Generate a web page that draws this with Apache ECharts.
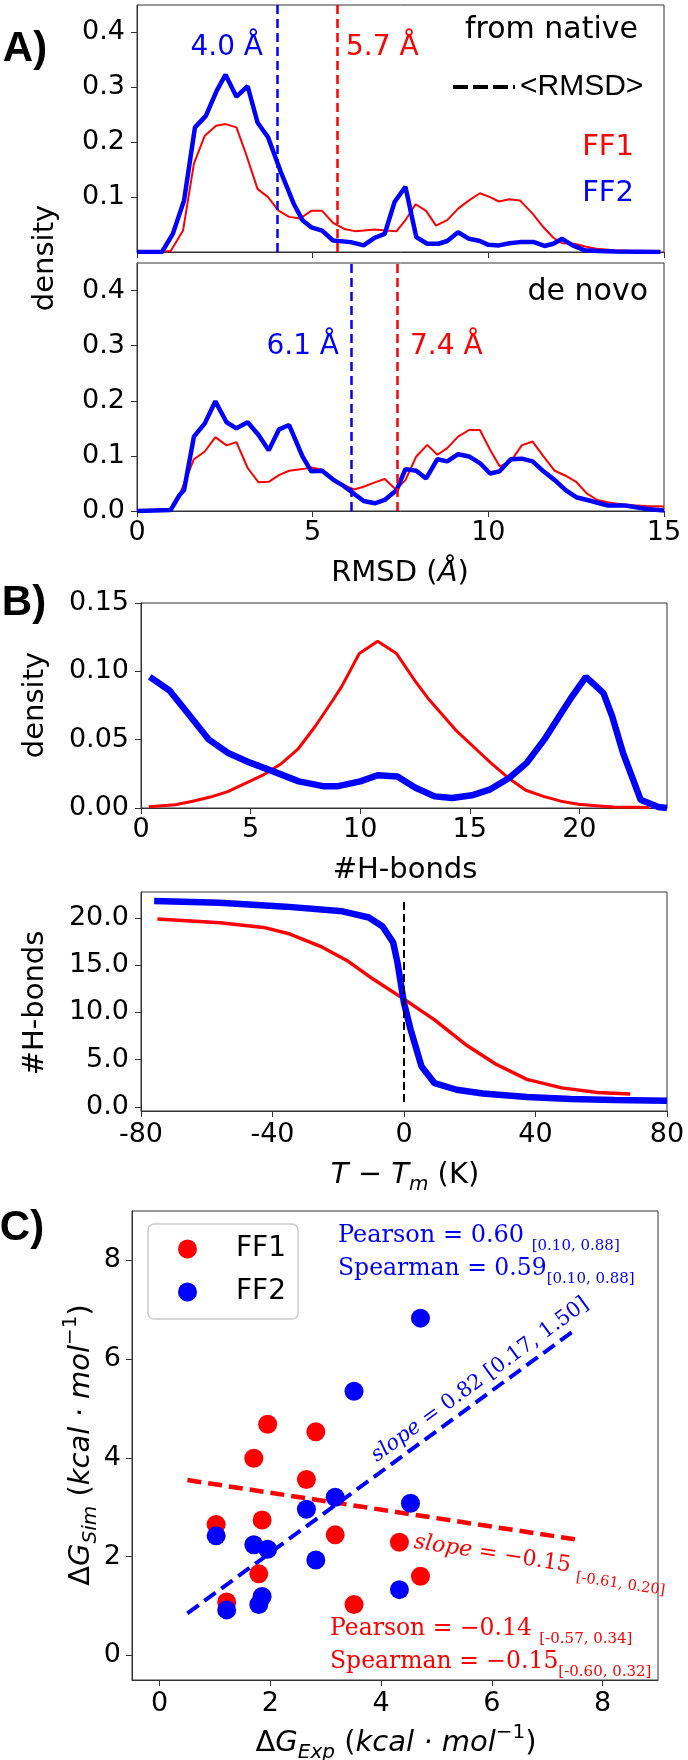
<!DOCTYPE html>
<html>
<head>
<meta charset="utf-8">
<script src="https://cdn.jsdelivr.net/npm/echarts@6.0.0/dist/echarts.min.js"></script>
<style>
  html, body { margin: 0; padding: 0; background: #fff; }
  #chart { width: 688px; height: 1760px; }
</style>
</head>
<body>
<div id="chart"></div>
<script>
// ---- A) RMSD densities (x = RMSD in Å, y = density)
const nativeFF1 = [[0,0],[0.5,0],[0.96,0.002],[1.31,0.039],[1.62,0.161],[1.93,0.212],[2.25,0.230],[2.52,0.233],[2.83,0.227],[3.1,0.179],[3.43,0.115],[3.73,0.100],[4.02,0.076],[4.33,0.064],[4.64,0.061],[4.96,0.075],[5.27,0.075],[5.58,0.053],[5.9,0.042],[6.2,0.038],[6.45,0.039],[6.77,0.041],[7.08,0.039],[7.39,0.038],[7.64,0.058],[7.93,0.087],[8.23,0.075],[8.51,0.048],[8.83,0.058],[9.14,0.079],[9.45,0.094],[9.76,0.107],[10.05,0.100],[10.3,0.092],[10.6,0.096],[10.9,0.094],[11.26,0.070],[11.57,0.045],[11.85,0.026],[12.1,0.016],[12.45,0.015],[12.76,0.010],[13.07,0.006],[13.6,0.003],[14.2,0.002],[14.9,0.001]];
const nativeFF2 = [[0,0],[0.71,0],[1.02,0.033],[1.34,0.094],[1.65,0.227],[1.96,0.248],[2.27,0.294],[2.52,0.323],[2.83,0.283],[3.15,0.302],[3.43,0.236],[3.73,0.209],[4.08,0.148],[4.46,0.088],[4.71,0.058],[4.96,0.045],[5.27,0.039],[5.58,0.021],[6.08,0.018],[6.45,0.012],[6.77,0.026],[7.05,0.033],[7.33,0.091],[7.64,0.119],[7.95,0.027],[8.26,0.015],[8.58,0.015],[8.83,0.020],[9.14,0.036],[9.45,0.024],[9.76,0.020],[10.0,0.013],[10.3,0.012],[10.6,0.016],[10.9,0.018],[11.3,0.018],[11.6,0.011],[11.85,0.015],[12.1,0.024],[12.4,0.012],[12.75,0.003],[13.1,0.002],[13.6,0.001],[14.9,0]];
const denovoFF1 = [[0,0],[0.96,0.002],[1.21,0.029],[1.62,0.094],[1.93,0.108],[2.23,0.134],[2.55,0.119],[2.83,0.125],[3.15,0.078],[3.46,0.052],[3.75,0.053],[4.04,0.065],[4.33,0.073],[4.71,0.076],[4.96,0.079],[5.27,0.075],[5.58,0.059],[5.89,0.047],[6.18,0.039],[6.45,0.044],[6.77,0.052],[7.05,0.058],[7.37,0.039],[7.64,0.056],[7.95,0.099],[8.26,0.120],[8.55,0.102],[8.83,0.114],[9.14,0.135],[9.45,0.147],[9.76,0.147],[10.05,0.111],[10.32,0.081],[10.64,0.090],[10.95,0.119],[11.26,0.126],[11.57,0.099],[11.89,0.073],[12.2,0.064],[12.5,0.053],[12.8,0.032],[13.1,0.020],[13.4,0.016],[13.9,0.011],[14.5,0.009],[15,0.008]];
const denovoFF2 = [[0,0],[0.96,0.002],[1.21,0.029],[1.34,0.038],[1.62,0.135],[1.93,0.159],[2.23,0.199],[2.55,0.161],[2.83,0.150],[3.15,0.161],[3.46,0.138],[3.75,0.110],[4.04,0.148],[4.33,0.156],[4.71,0.099],[4.96,0.072],[5.27,0.073],[5.58,0.057],[5.89,0.045],[6.14,0.033],[6.45,0.018],[6.77,0.014],[7.05,0.020],[7.39,0.038],[7.64,0.076],[7.95,0.073],[8.23,0.059],[8.55,0.094],[8.83,0.090],[9.14,0.103],[9.45,0.099],[9.76,0.087],[10.05,0.068],[10.32,0.072],[10.64,0.094],[10.95,0.095],[11.26,0.090],[11.57,0.072],[11.89,0.056],[12.2,0.038],[12.5,0.025],[12.87,0.019],[13.4,0.010],[13.9,0.010],[14.47,0.004],[15,0.001]];
const meanRmsdNative = { FF1: 5.7, FF2: 4.0 };
const meanRmsdDenovo = { FF1: 7.4, FF2: 6.1 };

// ---- B) H-bond densities and melting curves
const hbondFF1 = [[0.36,0.001],[1.56,0.0024],[2.36,0.005],[3.16,0.008],[3.96,0.012],[4.76,0.018],[5.56,0.024],[6.36,0.032],[7.16,0.043],[7.96,0.060],[8.76,0.079],[9.16,0.089],[9.96,0.113],[10.8,0.122],[11.66,0.113],[12.46,0.094],[13.16,0.079],[14.36,0.057],[15.16,0.045],[15.96,0.033],[16.76,0.022],[17.56,0.013],[18.36,0.0085],[19.16,0.005],[19.96,0.0027],[20.76,0.0017],[21.56,0.0007],[22.56,0.0005],[23.2,0.0003]];
const hbondFF2 = [[0.4,0.096],[1.3,0.086],[2.2,0.068],[3.1,0.050],[4.0,0.040],[5.0,0.033],[6.0,0.027],[7.2,0.0195],[8.3,0.016],[9.0,0.016],[10.0,0.0195],[10.8,0.024],[11.7,0.023],[12.5,0.015],[13.4,0.0085],[14.2,0.0073],[15.1,0.0093],[15.9,0.0134],[16.8,0.022],[17.6,0.033],[18.4,0.050],[19.2,0.070],[19.6,0.080],[20.3,0.096],[21.1,0.084],[21.5,0.067],[22.0,0.040],[22.8,0.006],[23.6,0.0007],[24,0]];
const meltFF1 = [[-75,19.9],[-56,19.5],[-42.7,19.0],[-34.7,18.3],[-25.4,17.0],[-17.4,15.5],[-9.3,13.5],[0,11.4],[9.3,9.2],[18.7,6.6],[28,4.5],[37.4,2.9],[48,2.0],[58.8,1.5],[68.8,1.35]];
const meltFF2 = [[-76,21.8],[-56,21.6],[-36,21.2],[-18.7,20.7],[-10.7,20.05],[-6.5,19.1],[-3.3,17.4],[-2,15.3],[0,11.0],[2,8.2],[5.3,4.3],[9.3,2.5],[16,1.8],[24,1.4],[37.4,1.03],[50.7,0.82],[64,0.71],[80,0.64]];
const tmMarker = [[0,0.5],[0,21.8]];

// ---- C) binding free energies
const expFF1 = [1.95,2.82,1.70,2.65,1.02,1.85,3.17,4.33,1.79,4.71,1.21,3.51];
const simFF1 = [4.68,4.53,3.99,3.56,2.65,2.74,2.44,2.29,1.65,1.60,1.08,1.03];
const expFF2 = [4.71,3.51,3.17,2.65,4.53,1.02,1.70,1.95,2.82,4.33,1.85,1.79,1.21];
const simFF2 = [6.83,5.35,3.20,2.96,3.08,2.42,2.24,2.15,1.93,1.33,1.19,1.03,0.92];
const fitFF1 = [[0.5,3.55],[7.5,2.35]];
const fitFF2 = [[0.5,0.85],[7.5,6.59]];

const RED = '#ff0000';
const BLUE = '#0000ff';
const SANS = "'DejaVu Sans', sans-serif";
const ARIAL = "'Liberation Sans', sans-serif";
const SERIF = "'DejaVu Serif', serif";

const chart = echarts.init(document.getElementById('chart'), null, { renderer: 'canvas' });

const grids = [
  { left: 137, top: 5, width: 527, height: 247 },
  { left: 137, top: 263, width: 527, height: 248 },
  { left: 141, top: 603, width: 526, height: 205 },
  { left: 141, top: 892, width: 526, height: 219 },
  { left: 132, top: 1211, width: 526, height: 469 }
].map(g => Object.assign({ show: true, borderColor: '#333', borderWidth: 1, backgroundColor: 'transparent' }, g));

function axis(gi, min, max, ticks, fmt, showLabels, margin) {
  return {
    type: 'value', gridIndex: gi, min: min, max: max,
    axisLine: { show: true, onZero: false, lineStyle: { color: '#333', width: 1 } },
    axisTick: { show: true, length: 6, customValues: ticks, lineStyle: { color: '#333' } },
    axisLabel: {
      show: showLabels, customValues: ticks, formatter: fmt, margin: margin,
      fontSize: 27, fontFamily: SANS, color: '#000'
    },
    splitLine: { show: false }
  };
}
const f1 = v => v.toFixed(1);
const f2 = v => v.toFixed(2);
const f0 = v => String(v);

const xAxes = [
  axis(0, 0, 15, [0, 5, 10, 15], f0, false, 8),
  axis(1, 0, 15, [0, 5, 10, 15], f0, true, 8),
  axis(2, 0, 24, [0, 5, 10, 15, 20], f0, true, 8),
  axis(3, -80, 80, [-80, -40, 0, 40, 80], f0, true, 10),
  axis(4, -0.5, 9, [0, 2, 4, 6, 8], f0, true, 10)
];
const yAxes = [
  axis(0, 0, 0.45, [0.1, 0.2, 0.3, 0.4], f1, true, 12),
  axis(1, 0, 0.45, [0, 0.1, 0.2, 0.3, 0.4], f1, true, 12),
  axis(2, 0, 0.15, [0, 0.05, 0.1, 0.15], f2, true, 12),
  axis(3, -0.45, 22.75, [0, 5, 10, 15, 20], f1, true, 12),
  axis(4, -0.5, 9, [0, 2, 4, 6, 8], f0, true, 11)
];

function curve(name, gi, data, color, width, extra) {
  return Object.assign({
    type: 'line', name: name, xAxisIndex: gi, yAxisIndex: gi, data: data,
    symbol: 'none', showSymbol: false, silent: true, animation: false,
    lineStyle: { color: color, width: width }, itemStyle: { color: color }
  }, extra || {});
}
function vline(x, color) {
  return {
    silent: true, symbol: ['none', 'none'], animation: false,
    label: { show: false },
    lineStyle: { color: color, width: 2.5, type: [9, 5] },
    data: [{ xAxis: x }]
  };
}

const series = [
  curve('FF1 native', 0, nativeFF1, RED, 2, { markLine: vline(meanRmsdNative.FF1, RED) }),
  curve('FF2 native', 0, nativeFF2, BLUE, 4.5, { markLine: vline(meanRmsdNative.FF2, BLUE) }),
  curve('FF1 de novo', 1, denovoFF1, RED, 2, { markLine: vline(meanRmsdDenovo.FF1, RED) }),
  curve('FF2 de novo', 1, denovoFF2, BLUE, 4.5, { markLine: vline(meanRmsdDenovo.FF2, BLUE) }),
  curve('FF1 hbonds', 2, hbondFF1, RED, 3),
  curve('FF2 hbonds', 2, hbondFF2, BLUE, 6.5),
  curve('FF1 melt', 3, meltFF1, RED, 3.5),
  curve('FF2 melt', 3, meltFF2, BLUE, 6.5),
  curve('Tm', 3, tmMarker, '#000', 2, { lineStyle: { color: '#000', width: 2, type: [8, 4] } }),
  curve('FF2 fit', 4, fitFF2, BLUE, 4, { lineStyle: { color: BLUE, width: 4, type: [14, 7] }, z: 2 }),
  curve('FF1 fit', 4, fitFF1, RED, 4.5, { lineStyle: { color: RED, width: 4.5, type: [14, 7] }, z: 2 }),
  {
    type: 'scatter', name: 'FF1', xAxisIndex: 4, yAxisIndex: 4, symbolSize: 19,
    data: expFF1.map((x, i) => [x, simFF1[i]]), itemStyle: { color: RED, opacity: 1 },
    z: 3, animation: false, silent: true
  },
  {
    type: 'scatter', name: 'FF2', xAxisIndex: 4, yAxisIndex: 4, symbolSize: 19,
    data: expFF2.map((x, i) => [x, simFF2[i]]), itemStyle: { color: BLUE, opacity: 1 },
    z: 4, animation: false, silent: true
  }
];

function txt(x, y, text, o) {
  o = o || {};
  return {
    type: 'text', x: x, y: y, rotation: o.rot || 0, silent: true, z: 10,
    style: {
      text: text, fill: o.color || '#000',
      fontSize: o.size || 28, fontFamily: o.family || SANS,
      fontWeight: o.weight || 'normal', fontStyle: o.style || 'normal',
      align: o.align || 'center', verticalAlign: o.valign || 'middle',
      textAlign: o.align || 'center', textVerticalAlign: o.valign || 'middle',
      lineHeight: o.lh || undefined,
      rich: o.rich || undefined
    }
  };
}

const mathRich = {
  n: { fontSize: 29, fontFamily: SANS, lineHeight: 40 },
  i: { fontSize: 29, fontFamily: SANS, fontStyle: 'italic', lineHeight: 40 },
  s: { fontSize: 20, fontFamily: SANS, fontStyle: 'italic', verticalAlign: 'bottom', lineHeight: 24 },
  p: { fontSize: 20, fontFamily: SANS, verticalAlign: 'top', lineHeight: 24 }
};
// serif statistics text; tokens on graphic elements take "fill"
function statRich(color, size, sub) {
  return {
    m: { fontSize: size, fontFamily: SERIF, fill: color, color: color, lineHeight: 36 },
    mi: { fontSize: size, fontFamily: SERIF, fontStyle: 'italic', fill: color, color: color, lineHeight: 36 },
    b: { fontSize: sub || 15, fontFamily: SERIF, fill: color, color: color, verticalAlign: 'bottom', lineHeight: 20 }
  };
}

const graphics = [
  // panel letters
  txt(25, 49, 'A)', { size: 42, weight: 'bold', family: ARIAL }),
  txt(24, 603, 'B)', { size: 42, weight: 'bold', family: ARIAL }),
  txt(22, 1228, 'C)', { size: 42, weight: 'bold', family: ARIAL }),

  // panel A
  txt(45, 258, 'density', { size: 29, rot: Math.PI / 2 }),
  txt(400, 573, 'RMSD ({i|Å})', { size: 29, lh: 40, rich: mathRich }),
  txt(638, 30, 'from native', { size: 30, align: 'right' }),
  {
    type: 'line', silent: true, z: 10,
    shape: { x1: 453, y1: 87, x2: 515, y2: 87 },
    style: { stroke: '#000', lineWidth: 4, lineDash: [15, 5] }
  },
  txt(520, 87, '<RMSD>', { size: 30, align: 'left', family: ARIAL }),
  txt(634, 147, 'FF1', { size: 29, align: 'right', color: RED }),
  txt(634, 193, 'FF2', { size: 29, align: 'right', color: BLUE }),
  txt(263, 48, '4.0 Å', { size: 28, align: 'right', color: BLUE }),
  txt(346, 48, '5.7 Å', { size: 28, align: 'left', color: RED }),
  txt(648, 292, 'de novo', { size: 30, align: 'right' }),
  txt(339, 347, '6.1 Å', { size: 28, align: 'right', color: BLUE }),
  txt(410, 347, '7.4 Å', { size: 28, align: 'left', color: RED }),

  // panel B
  txt(35, 705, 'density', { size: 29, rot: Math.PI / 2 }),
  txt(405, 870, '#H-bonds', { size: 29 }),
  txt(35, 1003, '#H-bonds', { size: 29, rot: Math.PI / 2 }),
  txt(405, 1175, '{i|T} − {i|T}{s|m} (K)', { size: 29, lh: 40, rich: mathRich }),

  // panel C
  txt(396, 1743, '{n|Δ}{i|G}{s|Exp} ({i|kcal · mol}{p|−1})', { size: 29, lh: 40, rich: mathRich }),
  txt(81, 1445, '{n|Δ}{i|G}{s|Sim} ({i|kcal · mol}{p|−1})', { size: 29, lh: 40, rich: mathRich, rot: Math.PI / 2 }),
  txt(338, 1236, '{m|Pearson = 0.60 }{b|[0.10, 0.88]}', { align: 'left', color: BLUE, rich: statRich(BLUE, 24) }),
  txt(338, 1269, '{m|Spearman = 0.59}{b|[0.10, 0.88]}', { align: 'left', color: BLUE, rich: statRich(BLUE, 23.5) }),
  txt(330, 1629, '{m|Pearson = −0.14 }{b|[-0.57, 0.34]}', { align: 'left', color: RED, rich: statRich(RED, 23.5) }),
  txt(330, 1662, '{m|Spearman = −0.15}{b|[-0.60, 0.32]}', { align: 'left', color: RED, rich: statRich(RED, 23.5) }),
  txt(480, 1380, '{mi|slope}{m| = 0.82 [0.17, 1.50]}', { color: BLUE, rich: statRich(BLUE, 21), rot: 0.632 }),
  txt(414, 1542, '{mi|slope}{m| = −0.15 }{b|[-0.61, 0.20]}', { align: 'left', color: RED, rich: statRich(RED, 22, 14.5), rot: -0.152 })
];

const option = {
  backgroundColor: '#fff',
  animation: false,
  grid: grids,
  xAxis: xAxes,
  yAxis: yAxes,
  legend: {
    data: ['FF1', 'FF2'],
    orient: 'vertical',
    left: 148, top: 1224,
    padding: [10, 12, 12, 30],
    itemGap: 13,
    itemWidth: 19, itemHeight: 19,
    icon: 'circle',
    borderColor: '#cccccc', borderWidth: 1.5, borderRadius: 6,
    backgroundColor: 'rgba(255,255,255,0.85)',
    selectedMode: false,
    textStyle: { fontSize: 28, fontFamily: SANS, color: '#000', lineHeight: 30, padding: [0, 0, 0, 34] }
  },
  graphic: { elements: graphics },
  series: series
};

chart.setOption(option);
</script>
</body>
</html>
